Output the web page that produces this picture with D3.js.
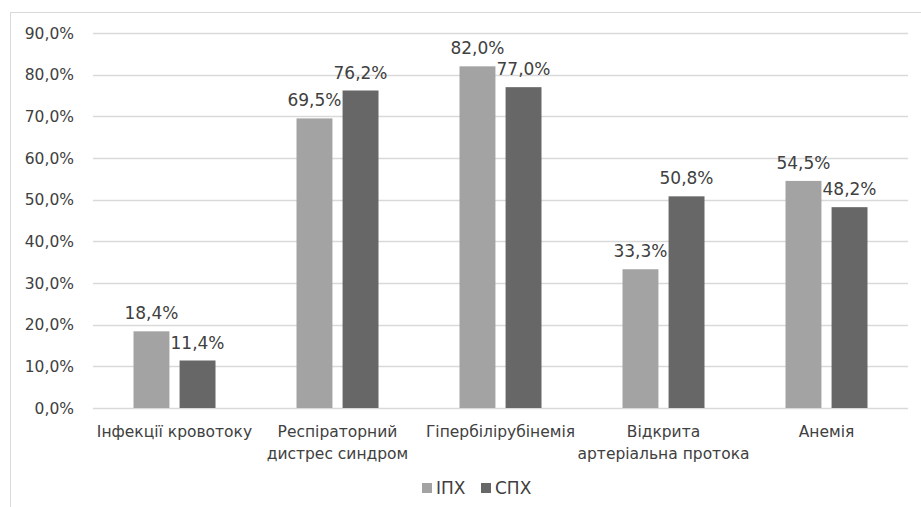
<!DOCTYPE html>
<html lang="uk">
<head>
<meta charset="utf-8">
<title>ІПХ / СПХ</title>
<style>
body { margin: 0; background: #fff; }
text { font-family: "DejaVu Sans", sans-serif; fill: #404040; }
</style>
<script src="https://cdn.jsdelivr.net/npm/d3@7"></script>
</head>
<body>
<div id="chart"></div>
<script>
// categories and series values
var categories = ['Інфекції кровотоку', 'Респіраторний дистрес синдром', 'Гіпербілірубінемія',
                  'Відкрита артеріальна протока', 'Анемія'];
var catLines = [['Інфекції кровотоку'], ['Респіраторний', 'дистрес синдром'], ['Гіпербілірубінемія'],
                ['Відкрита', 'артеріальна протока'], ['Анемія']];
var seriesNames = ['ІПХ', 'СПХ'];
var ipx = [18.4, 69.5, 82.0, 33.3, 54.5];
var spx = [11.4, 76.2, 77.0, 50.8, 48.2];
var yTicks = [0, 10, 20, 30, 40, 50, 60, 70, 80, 90];
var colors = ['#a3a3a3', '#676767'];

var width = 921, height = 507;
var plotLeft = 93, plotRight = 908, plotTop = 33, plotBottom = 408;

var svg = d3.select('#chart').append('svg')
    .attr('width', width)
    .attr('height', height);

// chart frame
svg.append('rect')
    .attr('x', 10.5).attr('y', 12.5)
    .attr('width', 940).attr('height', 520)
    .attr('fill', 'none')
    .attr('stroke', '#d9d9d9');

var y = d3.scaleLinear().domain([0, 90]).range([plotBottom, plotTop]);
var x0 = d3.scaleBand().domain(categories).range([plotLeft, plotRight]);
var x1 = d3.scaleBand().domain(seriesNames)
    .range([x0.bandwidth() / 2 - 41, x0.bandwidth() / 2 + 41])
    .paddingInner(0.22);

var fmt = function(v) { return v.toFixed(1).replace('.', ',') + '%'; };

// gridlines
svg.append('g').selectAll('line')
    .data(yTicks)
    .enter().append('line')
        .attr('x1', plotLeft).attr('x2', plotRight)
        .attr('y1', function(d) { return Math.round(y(d)) + 0.5; })
        .attr('y2', function(d) { return Math.round(y(d)) + 0.5; })
        .style('stroke', '#d9d9d9')
        .style('stroke-width', '1.5px');

// y tick labels
svg.append('g').selectAll('text')
    .data(yTicks)
    .enter().append('text')
        .attr('x', 74)
        .attr('y', function(d) { return y(d) + 5.5; })
        .attr('text-anchor', 'end')
        .style('font-size', '15.5px')
        .text(function(d) { return fmt(d); });

var rows = categories.map(function(c, i) {
    return { cat: c, lines: catLines[i], vals: [ipx[i], spx[i]] };
});

var groups = svg.append('g').selectAll('g')
    .data(rows)
    .enter().append('g')
        .attr('transform', function(d) { return 'translate(' + x0(d.cat) + ',0)'; });

var bars = groups.selectAll('g.bar')
    .data(function(d) { return d.vals.map(function(v, j) { return { s: seriesNames[j], v: v, j: j }; }); })
    .enter().append('g').attr('class', 'bar');

bars.append('rect')
    .attr('x', function(d) { return x1(d.s); })
    .attr('y', function(d) { return y(d.v); })
    .attr('width', x1.bandwidth())
    .attr('height', function(d) { return y(0) - y(d.v); })
    .attr('fill', function(d) { return colors[d.j]; });

bars.append('text')
    .attr('x', function(d) { return x1(d.s) + x1.bandwidth() / 2; })
    .attr('y', function(d) { return y(d.v) - 12; })
    .attr('text-anchor', 'middle')
    .style('font-size', '17px')
    .text(function(d) { return fmt(d.v); });

// category labels
groups.append('text')
    .attr('x', x0.bandwidth() / 2)
    .attr('y', 437)
    .attr('text-anchor', 'middle')
    .style('font-size', '15.5px')
    .selectAll('tspan')
    .data(function(d) { return d.lines; })
    .enter().append('tspan')
        .attr('x', x0.bandwidth() / 2)
        .attr('dy', function(d, i) { return i === 0 ? 0 : 22; })
        .text(function(d) { return d; });

// legend
var legendX = [422, 481];
var legend = svg.append('g').selectAll('g')
    .data(seriesNames)
    .enter().append('g')
        .attr('transform', function(d, i) { return 'translate(' + legendX[i] + ',483)'; });
legend.append('rect')
    .attr('width', 10).attr('height', 10)
    .attr('fill', function(d, i) { return colors[i]; });
legend.append('text')
    .attr('x', 14).attr('y', 11)
    .style('font-size', '17px')
    .text(function(d) { return d; });
</script>
</body>
</html>
